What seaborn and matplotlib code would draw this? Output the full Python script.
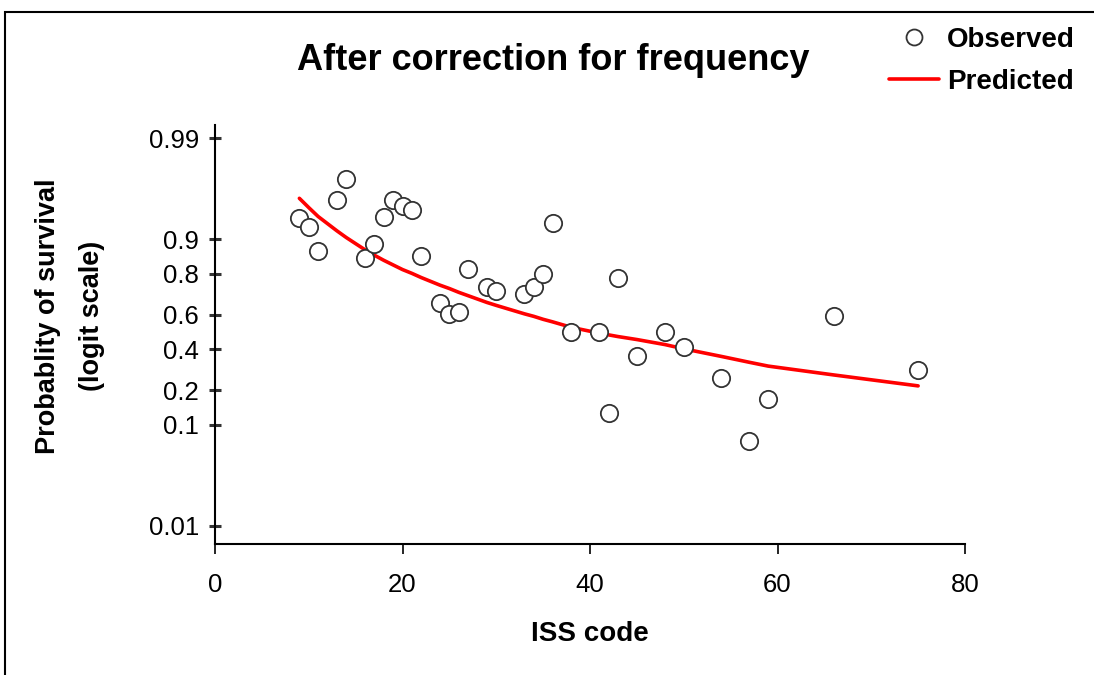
import numpy as np
import pandas as pd
import matplotlib
matplotlib.use("Agg")
import matplotlib.pyplot as plt
from matplotlib.lines import Line2D
from matplotlib.patches import Rectangle
from matplotlib.ticker import NullLocator
import seaborn as sns

# ---- data ----
iss_code = [9, 10, 11, 13, 14, 16, 17, 18, 19, 20, 21, 22, 24, 25, 26, 27, 29,
            30, 33, 34, 35, 36, 38, 41, 42, 43, 45, 48, 50, 54, 57, 59, 66, 75]
observed = [0.937, 0.923, 0.872, 0.958, 0.974, 0.852, 0.889, 0.939, 0.958, 0.952,
            0.948, 0.858, 0.664, 0.605, 0.615, 0.817, 0.745, 0.727, 0.709, 0.745,
            0.797, 0.930, 0.498, 0.498, 0.127, 0.784, 0.363, 0.498, 0.413, 0.253,
            0.070, 0.169, 0.594, 0.289]
predicted = [0.9597, 0.9503, 0.9393, 0.9168, 0.9038, 0.8754, 0.8606, 0.8455, 0.8306,
             0.8146, 0.8006, 0.7842, 0.7521, 0.7369, 0.7191, 0.7027, 0.6682, 0.6525,
             0.6059, 0.5915, 0.5744, 0.5597, 0.5275, 0.4925, 0.4825, 0.4725, 0.4551,
             0.4256, 0.4013, 0.3589, 0.3274, 0.3079, 0.2650, 0.2176]
y_ticks = [0.01, 0.1, 0.2, 0.4, 0.6, 0.8, 0.9, 0.99]
y_tick_labels = ["0.01", "0.1", "0.2", "0.4", "0.6", "0.8", "0.9", "0.99"]
x_ticks = [0, 20, 40, 60, 80]

df = pd.DataFrame({"ISS code": iss_code, "Observed": observed, "Predicted": predicted})

sns.set_theme(style="white")
plt.rcParams["font.family"] = ["Liberation Sans", "DejaVu Sans"]
plt.rcParams["text.color"] = "black"
plt.rcParams["axes.labelcolor"] = "black"
plt.rcParams["xtick.color"] = "black"
plt.rcParams["ytick.color"] = "black"

W, H = 1094, 675
fig = plt.figure(figsize=(W / 100, H / 100), dpi=100)
fig.patch.set_facecolor("white")

# axes placement (pixels)
L, R, T, B = 215, 965, 125, 544
ax = fig.add_axes([L / W, (H - B) / H, (R - L) / W, (B - T) / H])

sns.lineplot(data=df, x="ISS code", y="Predicted", ax=ax, color="#ff0000",
             linewidth=2.6, sort=True, errorbar=None, zorder=2)
sns.scatterplot(data=df, x="ISS code", y="Observed", ax=ax, s=155,
                facecolor="white", edgecolor="#333333", linewidth=1.3, zorder=3)

ax.set_yscale("logit")
ax.set_ylim(0.00649, 0.99268)
ax.set_xlim(0, 80)
ax.set_yticks(y_ticks)
ax.set_yticklabels(y_tick_labels)
ax.yaxis.set_minor_locator(NullLocator())
ax.set_xticks(x_ticks)
ax.set_xticklabels([str(v) for v in x_ticks])

for s in ["top", "right"]:
    ax.spines[s].set_visible(False)
for s in ["left", "bottom"]:
    ax.spines[s].set_color("black")
    ax.spines[s].set_linewidth(1.5)

ax.tick_params(axis="y", direction="inout", length=9, width=2.2, color="#333333",
               labelsize=18.5, pad=7, labelcolor="black", left=True)
ax.tick_params(axis="x", direction="out", length=7, width=1.2, color="black",
               labelsize=18.5, pad=14, labelcolor="black", bottom=True)
ax.set_xlabel("")
ax.set_ylabel("")
ax.grid(False)

# axis titles
fig.text((L + R) / 2 / W - 0.0, 1 - 634 / H, "ISS code", ha="center", va="center",
         fontsize=20, fontweight="bold", color="black")
fig.text(70 / W, 1 - 316 / H, "Probablity of survival\n(logit scale)", rotation=90,
         ha="center", va="center", fontsize=19.5, fontweight="bold",
         multialignment="center", linespacing=1.9, color="black")

# title
fig.text(553 / W, 1 - 60 / H, "After correction for frequency", ha="center",
         va="center", fontsize=26, fontweight="bold", color="black")

# legend
handles = [
    Line2D([], [], linestyle="none", marker="o", markersize=11.5,
           markerfacecolor="white", markeredgecolor="#333333", markeredgewidth=1.3),
    Line2D([], [], color="#ff0000", linewidth=2.6),
]
leg = fig.legend(handles, ["Observed", "Predicted"], loc="upper left",
                 bbox_to_anchor=(889 / W, 1 - 27 / H), frameon=False, borderpad=0,
                 borderaxespad=0, handlelength=1.8, handletextpad=0.3,
                 labelspacing=0.56, prop={"weight": "bold", "size": 20})
for t in leg.get_texts():
    t.set_color("black")

# outer frame
fig.add_artist(Rectangle((5 / W, -0.1), 1.2, 1.1 - 12 / H, transform=fig.transFigure,
                         fill=False, edgecolor="black", linewidth=1.5))

fig.savefig("out.png", dpi=100, facecolor="white")
